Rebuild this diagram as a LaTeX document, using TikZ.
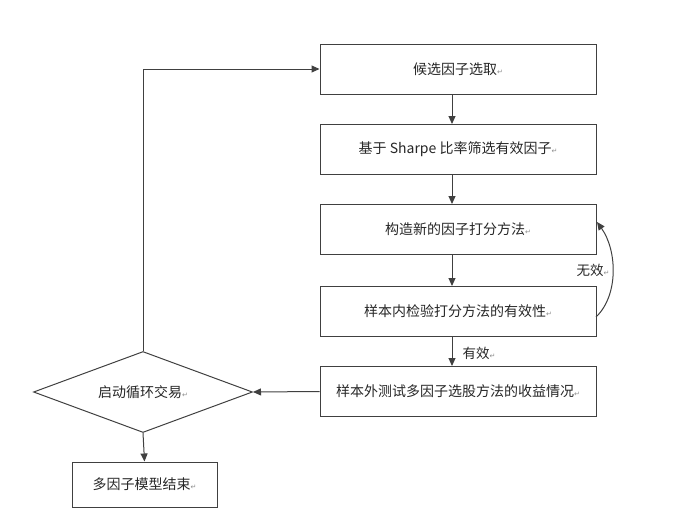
\documentclass[tikz,border=0pt]{standalone}
\usepackage{fontspec}
\setmainfont{Noto Sans CJK SC}
\newfontfamily\symfont{DejaVu Sans}
\usetikzlibrary{shapes.geometric,arrows.meta}
\newcommand{\parmark}{{\symfont\fontsize{7}{8}\selectfont\color{black!45}↵}}
\begin{document}
\begin{tikzpicture}[x=1pt,y=-1pt,
  box/.style={draw=black!75,line width=1pt,minimum width=276pt,minimum height=50pt,inner sep=0pt,font=\fontsize{14}{16}\selectfont,text=black!85},
  endbox/.style={draw=black!75,line width=1pt,minimum width=145pt,minimum height=45pt,inner sep=0pt,font=\fontsize{14}{16}\selectfont,text=black!85},
  dia/.style={draw=black!75,line width=1pt,diamond,aspect=2.75,minimum width=219pt,minimum height=81pt,inner sep=0pt,font=\fontsize{14}{16}\selectfont,text=black!85},
  arr/.style={draw=black!75,line width=1pt,-{Triangle[length=8pt,width=7pt]}},
  lbl/.style={font=\fontsize{13.5}{15}\selectfont,text=black!85}]
\useasboundingbox (0,0) rectangle (692,522);
\node[box] (b1) at (458,69) {候选因子选取\parmark};
\node[box] (b2) at (458,149) {基于 Sharpe 比率筛选有效因子\parmark};
\node[box] (b3) at (458,229) {构造新的因子打分方法\parmark};
\node[box] (b4) at (458,311) {样本内检验打分方法的有效性\parmark};
\node[box] (b5) at (458,391.5) {样本外测试多因子选股方法的收益情况\parmark};
\node[dia] (d) at (143,392) {启动循环交易\parmark};
\node[endbox] (e) at (144.5,484.5) {多因子模型结束\parmark};
\draw[arr] (452,94) -- (452,124);
\draw[arr] (452,174) -- (452,204);
\draw[arr] (452,254) -- (452,286);
\draw[arr] (452,336) -- (452,366);
\node[lbl,anchor=west] (yx) at (459,353) {有效\parmark};
\draw[arr] (b5.west) -- (d.east);
\draw[arr] (d.south) -- (e.north);
\coordinate (c1) at (143,69);
\draw[arr] (d.north) -- (c1) -- (b1.west);
\coordinate (s) at (596,317);
\coordinate (t) at (597,222);
\draw[arr] (s) .. controls (619,295) and (617,250) .. (t);
\node[lbl,anchor=east] (wx) at (613,270) {无效\parmark};
\end{tikzpicture}
\end{document}
